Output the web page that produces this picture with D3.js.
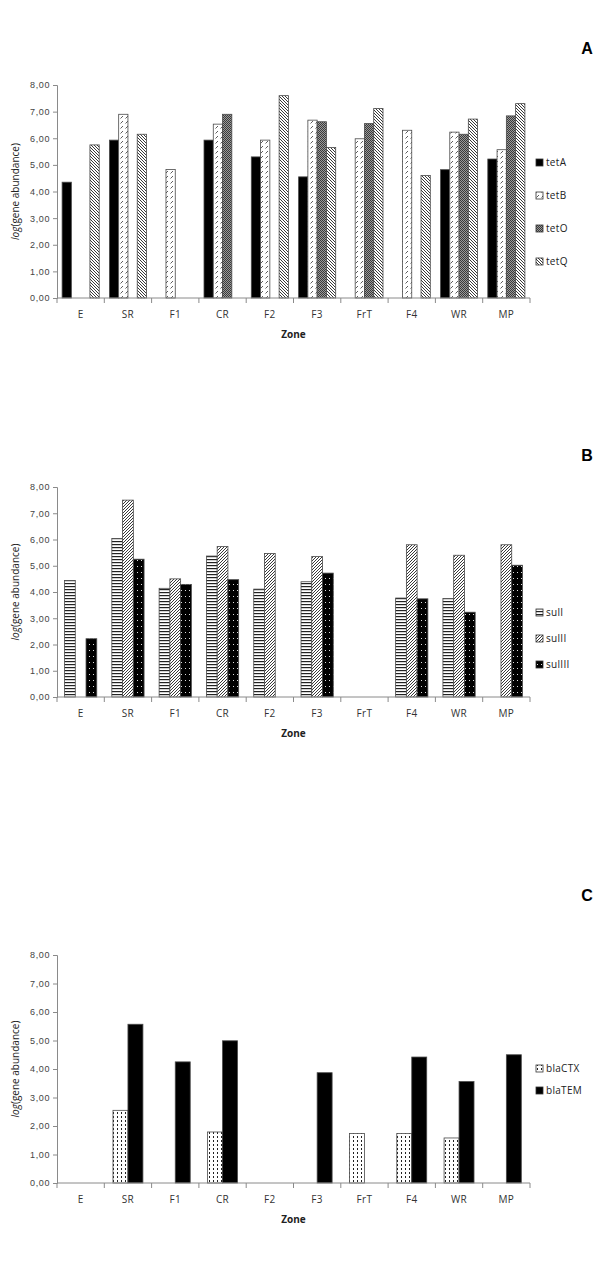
<!DOCTYPE html>
<html>
<head>
<meta charset="utf-8">
<script src="https://cdn.jsdelivr.net/npm/d3@7"></script>
<style>
  body { margin: 0; background: #fff; }
  svg { display: block; font-family: "Open Sans", "Liberation Sans", sans-serif; }
</style>
</head>
<body>
<div id="chart"></div>
<script>
//* ------------------------------ DATA ---------------------------------------- //
const zones = ["E", "SR", "F1", "CR", "F2", "F3", "FrT", "F4", "WR", "MP"];
const yTicks = [0, 1, 2, 3, 4, 5, 6, 7, 8];

// panel A - tet genes
const tetGenes = ["tetA", "tetB", "tetO", "tetQ"];
const tetA = [4.35, 5.93, 0, 5.93, 5.30, 4.55, 0, 0, 4.82, 5.22];
const tetB = [0, 6.90, 4.83, 6.53, 5.93, 6.68, 5.98, 6.30, 6.23, 5.57];
const tetO = [0, 0, 0, 6.90, 0, 6.62, 6.55, 0, 6.15, 6.84];
const tetQ = [5.75, 6.15, 0, 0, 7.60, 5.65, 7.12, 4.60, 6.72, 7.30];

// panel B - sul genes
const sulGenes = ["sulI", "sulII", "sulIII"];
const sulI = [4.44, 6.04, 4.14, 5.37, 4.11, 4.39, 0, 3.77, 3.75, 0];
const sulII = [0, 7.50, 4.50, 5.73, 5.47, 5.35, 0, 5.80, 5.40, 5.80];
const sulIII = [2.22, 5.25, 4.29, 4.47, 0, 4.72, 0, 3.74, 3.23, 5.02];

// panel C - bla genes
const blaGenes = ["blaCTX", "blaTEM"];
const blaCTX = [0, 2.55, 0, 1.79, 0, 0, 1.74, 1.74, 1.58, 0];
const blaTEM = [0, 5.57, 4.25, 4.99, 0, 3.87, 0, 4.42, 3.56, 4.50];
//* ------------------------------ END DATA ------------------------------------ //

const W = 609, H = 1275;
const svg = d3.select("#chart").append("svg").attr("width", W).attr("height", H);
const defs = svg.append("defs");

//* ------------------------------ PATTERNS ------------------------------------ //
function addPattern(id, w, h, bg, draw) {
  const p = defs.append("pattern").attr("id", id)
    .attr("patternUnits", "userSpaceOnUse").attr("width", w).attr("height", h);
  p.append("rect").attr("width", w).attr("height", h).attr("fill", bg);
  draw(p);
}
// tetB : white with small dashed forward diagonals
addPattern("pTetB", 5, 5, "#fff", p => {
  p.append("line").attr("x1", 0.5).attr("y1", 3.5).attr("x2", 3).attr("y2", 1)
    .attr("stroke", "#333").attr("stroke-width", 0.8);
});
// tetO : dark grey checker
addPattern("pTetO", 2, 2, "#9a9a9a", p => {
  p.append("rect").attr("width", 1).attr("height", 1).attr("fill", "#3a3a3a");
  p.append("rect").attr("x", 1).attr("y", 1).attr("width", 1).attr("height", 1).attr("fill", "#3a3a3a");
});
// tetQ : backward diagonal stripes
addPattern("pTetQ", 3, 3, "#fff", p => {
  p.append("path").attr("d", "M-1,-1L4,4M-1,2L1,4M2,-1L4,1")
    .attr("stroke", "#222").attr("stroke-width", 0.9);
});
// sulI : horizontal stripes
addPattern("pSulI", 4, 3, "#fff", p => {
  p.append("rect").attr("y", 1).attr("width", 4).attr("height", 1.2).attr("fill", "#222");
});
// sulII : forward diagonal stripes
addPattern("pSulII", 3, 3, "#fff", p => {
  p.append("path").attr("d", "M-1,4L4,-1M-1,1L1,-1M2,4L4,2")
    .attr("stroke", "#222").attr("stroke-width", 0.9);
});
// sulIII : black with white dots
addPattern("pSulIII", 4, 6, "#000", p => {
  p.append("rect").attr("x", 1).attr("y", 2).attr("width", 1).attr("height", 1).attr("fill", "#ddd");
});
// blaCTX : white with dashed vertical lines
addPattern("pCTX", 4, 4, "#fff", p => {
  p.append("rect").attr("x", 1).attr("y", 0).attr("width", 1).attr("height", 2).attr("fill", "#222");
});

//* ------------------------------ PANEL DRAWING ------------------------------- //
function drawPanel(cfg) {
  const g = svg.append("g");
  const x0 = d3.scaleBand().domain(zones).range([cfg.left, cfg.right]);
  const x1 = d3.scaleBand().domain(cfg.series).range([0, x0.bandwidth()])
    .paddingOuter(cfg.outer);
  const y = d3.scaleLinear().domain([0, 8]).range([cfg.bottom, cfg.top]);

  // bars
  cfg.series.forEach((s, si) => {
    g.append("g").selectAll("rect").data(cfg.values[si]).join("rect")
      .attr("x", (d, i) => x0(zones[i]) + x1(s))
      .attr("y", d => y(d))
      .attr("width", x1.bandwidth())
      .attr("height", d => y(0) - y(d))
      .attr("fill", cfg.fills[si])
      .attr("stroke", "#4a4a4a").attr("stroke-width", 0.8);
  });

  // y axis
  const yAxis = d3.axisLeft(y).tickValues(yTicks).tickSize(4)
    .tickFormat(d => d3.format(".2f")(d).replace(".", ","));
  const ya = g.append("g").attr("transform", `translate(${cfg.left},0)`).call(yAxis);
  ya.select(".domain").attr("stroke", "#8a8a8a");
  ya.selectAll(".tick line").attr("stroke", "#8a8a8a");
  ya.selectAll(".tick text").attr("font-size", 9).attr("fill", "#444")
    .attr("letter-spacing", 0.6).attr("x", -7);

  // x axis with ticks at category boundaries
  const xa = g.append("g").attr("transform", `translate(0,${cfg.bottom})`);
  xa.append("line").attr("x1", cfg.left).attr("x2", cfg.right)
    .attr("stroke", "#8a8a8a");
  xa.selectAll("line.b").data(zones.concat(["end"])).join("line").attr("class", "b")
    .attr("x1", (d, i) => cfg.left + i * x0.step()).attr("x2", (d, i) => cfg.left + i * x0.step())
    .attr("y1", 0).attr("y2", 5).attr("stroke", "#8a8a8a");
  xa.selectAll("text").data(zones).join("text")
    .attr("x", d => x0(d) + x0.bandwidth() / 2).attr("y", 20)
    .attr("text-anchor", "middle").attr("font-size", 10).attr("fill", "#333")
    .attr("letter-spacing", 0.4).text(d => d);

  g.append("text").attr("x", (cfg.left + cfg.right) / 2).attr("y", cfg.bottom + 40)
    .attr("text-anchor", "middle").attr("font-size", 10).attr("font-weight", "bold")
    .attr("fill", "#222").text("Zone");

  const yl = g.append("text")
    .attr("transform", `translate(19,${(cfg.top + cfg.bottom) / 2}) rotate(-90)`)
    .attr("text-anchor", "middle").attr("font-size", 10).attr("fill", "#222");
  yl.append("tspan").attr("font-style", "italic").text("log");
  yl.append("tspan").text("(gene abundance)");

  // panel letter
  g.append("text").attr("x", 587).attr("y", cfg.letterY).attr("text-anchor", "middle")
    .attr("font-family", "Liberation Sans, Arial, sans-serif")
    .attr("font-size", 16).attr("font-weight", "bold").text(cfg.letter);

  // legend
  const lg = g.append("g").selectAll("g").data(cfg.series).join("g")
    .attr("transform", (d, i) => `translate(536,${cfg.legendY + i * cfg.legendStep})`);
  lg.append("rect").attr("x", 0).attr("y", -7).attr("width", 7).attr("height", 7)
    .attr("fill", (d, i) => cfg.fills[i]).attr("stroke", "#333").attr("stroke-width", 0.8);
  lg.append("text").attr("x", 10).attr("y", 0).attr("font-size", 10).attr("fill", "#222")
    .attr("letter-spacing", 0.3).text(d => d);
}

drawPanel({
  letter: "A", letterY: 54, top: 85, bottom: 298, left: 57, right: 530, outer: 0.55,
  series: tetGenes, values: [tetA, tetB, tetO, tetQ],
  fills: ["#000", "url(#pTetB)", "url(#pTetO)", "url(#pTetQ)"],
  legendY: 166, legendStep: 33
});
drawPanel({
  letter: "B", letterY: 461, top: 487, bottom: 697, left: 57, right: 530, outer: 0.7,
  series: sulGenes, values: [sulI, sulII, sulIII],
  fills: ["url(#pSulI)", "url(#pSulII)", "url(#pSulIII)"],
  legendY: 616, legendStep: 26
});
drawPanel({
  letter: "C", letterY: 901, top: 955, bottom: 1183, left: 57, right: 530, outer: 0.58,
  series: blaGenes, values: [blaCTX, blaTEM],
  fills: ["url(#pCTX)", "#000"],
  legendY: 1072, legendStep: 22
});
</script>
</body>
</html>
